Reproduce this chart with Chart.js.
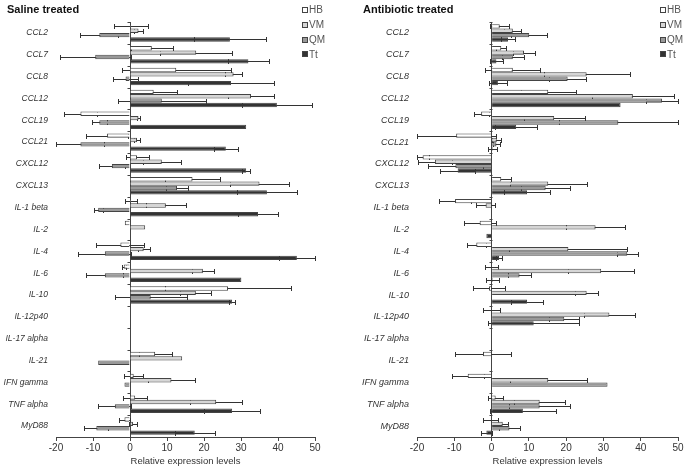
<!DOCTYPE html>
<html>
<head>
<meta charset="utf-8">
<script src="https://cdn.jsdelivr.net/npm/chart.js@4.4.0/dist/chart.umd.min.js"></script>
<style>
    body { margin: 0; background: #fff; }
    #wrap { position: relative; width: 686px; height: 470px; }
    .panel { position: absolute; top: 0; height: 470px; }
    #left { left: 0; width: 340px; }
    #right { left: 340px; width: 346px; }
</style>
</head>
<body>
<div id="wrap">
    <div class="panel" id="left"><canvas id="grafico-saline"></canvas></div>
    <div class="panel" id="right"><canvas id="grafico-antibiotic"></canvas></div>
</div>
<script>
const genes = ['CCL2', 'CCL7', 'CCL8', 'CCL12', 'CCL19', 'CCL21', 'CXCL12', 'CXCL13', 'IL-1 beta', 'IL-2',
    'IL-4', 'IL-6', 'IL-10', 'IL-12p40', 'IL-17 alpha', 'IL-21', 'IFN gamma', 'TNF alpha', 'MyD88'];
const groups = ['HB', 'VM', 'QM', 'Tt'];
const xTicks = [-20, -10, 0, 10, 20, 30, 40, 50];

// Saline treated
const salineHB = [0.3, 5.9, 12.5, 6.4, -13.4, -6.2, 1.9, 16.9, 0.3, -1.4, -2.6, -1.7, 26.5, 0, 0, 6.8, 1, 1.4, -1.5];
const salineHBerr = [4.5, 5.6, 14.7, 6.3, 4.5, 5.6, 3.1, 7.5, 1.6, 0, 6.5, 0.5, 17.1, 0, 0, 4.5, 2.5, 3.2, 1.5];
const salineVM = [2.3, 17.9, 28, 32.7, 2.3, 1.9, 8.6, 35, 9.7, 4.1, 3.7, 19.7, 17.8, 0, 0, 14.1, 11.2, 23.3, 0.8];
const salineVMerr = [1.3, 9.7, 2.4, 6.3, 0.5, 0.8, 5.1, 8.1, 5.4, 0, 1.6, 2.9, 4.2, 0, 0, 0, 6.3, 7.1, 1.2];
const salineQM = [-8.3, -9.4, -1.2, 8.6, -8.3, -13.4, -4.9, 12.7, -8.6, 0, -6.8, -6.8, 5.6, 0, 0, -8.6, -1.5, -4.1, -9.1];
const salineQMerr = [5.1, 9.6, 3.4, 11.9, 2, 6.5, 3.6, 3, 1.2, 0, 7.2, 5, 9.7, 0, 0, 0, 0, 4.5, 3.2];
const salineTt = [27, 32, 27.3, 39.7, 31.4, 25.9, 31.4, 37, 34.6, 0, 45.1, 30.1, 27.6, 0, 0, 0, 0, 27.6, 17.5];
const salineTterr = [9.8, 5.6, 11.7, 9.5, 0, 3.3, 1.1, 8.1, 5.4, 0, 4.8, 0, 0.9, 0, 0, 0, 0, 7.6, 5.4];

// Antibiotic treated
const antibioticHB = [2.2, 2.6, 5.7, 15.2, -2.8, -9.5, -18.5, 2.6, -9.8, -3.2, -4.1, 0, -0.7, 0, 0, -2.3, -6.4, 1.1, -0.2];
const antibioticHBerr = [2.6, 1.3, 7.4, 7.4, 2, 10.6, 1.6, 2.7, 4.2, 4.3, 2.5, 1.7, 4.3, 2.2, 0, 7.5, 4.3, 2, 2];
const antibioticVM = [5.7, 8.7, 25.5, 37.9, 16.8, 1.4, -15.2, 15.2, -1.6, 27.9, 20.6, 29.4, 25.5, 31.6, 0, 0, 15.2, 12.9, 3];
const antibioticVMerr = [2.3, 2.9, 11.5, 10.9, 8.2, 1.2, 4.6, 10.3, 2.5, 7.9, 15.8, 8.9, 3, 6.9, 0, 0, 10.3, 6.8, 1.4];
const antibioticQM = [10.1, 5.7, 20.4, 45.7, 34, 1.3, -9.7, 14.5, 0, 0, 36.4, 7.5, 0, 19.5, 0, 0, 31.1, 12.9, 4.8];
const antibioticQMerr = [4.8, 3, 5, 4.3, 16, 0.9, 7.4, 6.5, 0, 0, 2.8, 3, 0, 4, 0, 0, 0, 8.1, 2.7];
const antibioticTt = [4.4, 1.3, 1.7, 34.6, 6.6, 0.3, -9.1, 9.5, 0, -1.4, 2, 0.3, 9.5, 11.3, 0, 0, 0, 8.4, -1.4];
const antibioticTterr = [1.8, 1.7, 2.5, 0, 5.7, 1.2, 4.7, 6.3, 0, 0, 0.9, 1.8, 4.3, 12.2, 0, 0, 0, 8.8, 1.4];

const groupColors = ['#FFFFFF', '#D6D6D6', '#999999', '#333333'];

Chart.defaults.font.family = '"Liberation Sans", Arial, sans-serif';
Chart.defaults.color = '#333';

// error bars go under the bars, so only the part sticking out shows
const errorBars = {
    id: 'errorBars',
    beforeDatasetsDraw(chart) {
        const { ctx, scales } = chart;
        ctx.save();
        ctx.strokeStyle = '#333';
        ctx.lineWidth = 1;
        chart.data.datasets.forEach((ds, i) => {
            chart.getDatasetMeta(i).data.forEach((bar, j) => {
                const err = ds.errors[j];
                if (!err) return;
                const x1 = Math.round(scales.x.getPixelForValue(ds.data[j] - err)) + 0.5;
                const x2 = Math.round(scales.x.getPixelForValue(ds.data[j] + err)) + 0.5;
                const y = Math.round(bar.y) + 0.5;
                ctx.beginPath();
                ctx.moveTo(x1, y);
                ctx.lineTo(x2, y);
                ctx.moveTo(x1, y - 2.5);
                ctx.lineTo(x1, y + 2.5);
                ctx.moveTo(x2, y - 2.5);
                ctx.lineTo(x2, y + 2.5);
                ctx.stroke();
            });
        });
        ctx.restore();
    }
};

// title, small legend and the little ticks on the zero line
const panelDecor = {
    id: 'panelDecor',
    afterDraw(chart, args, opts) {
        const { ctx, scales } = chart;
        ctx.save();
        const x0 = Math.round(scales.x.getPixelForValue(0)) + 0.5;
        ctx.strokeStyle = '#444';
        ctx.lineWidth = 1;
        ctx.beginPath();
        for (let j = 0; j <= chart.data.labels.length; j++) {
            const y = Math.round(scales.y.getPixelForValue(j - 0.5)) + 0.5;
            ctx.moveTo(x0 - 3, y);
            ctx.lineTo(x0, y);
        }
        ctx.stroke();

        ctx.fillStyle = '#111';
        ctx.font = 'bold 11px "Liberation Sans", Arial, sans-serif';
        ctx.textBaseline = 'middle';
        ctx.fillText(opts.title, opts.titleX, 10);

        ctx.font = '10px "Liberation Sans", Arial, sans-serif';
        chart.data.datasets.forEach((ds, i) => {
            const y = 10 + i * 14.8;
            ctx.fillStyle = ds.backgroundColor;
            ctx.fillRect(opts.legendX, Math.round(y - 3), 5, 5);
            ctx.strokeStyle = '#444';
            ctx.strokeRect(opts.legendX + 0.5, Math.round(y - 3) + 0.5, 5, 5);
            ctx.fillStyle = '#555';
            ctx.fillText(ds.label, opts.legendX + 7, y + 0.5);
        });
        ctx.restore();
    }
};

function makePanel(canvasId, series, errors, axisWidth, padRight, labelSize, title, titleX, legendX) {
    new Chart(document.getElementById(canvasId), {
        type: 'bar',
        data: {
            labels: genes,
            datasets: groups.map((g, i) => ({
                label: g,
                data: series[i],
                errors: errors[i],
                backgroundColor: groupColors[i],
                borderColor: '#444',
                borderWidth: 1,
                categoryPercentage: 0.8,
                barPercentage: 1.0
            }))
        },
        options: {
            indexAxis: 'y',
            responsive: true,
            maintainAspectRatio: false,
            animation: false,
            layout: { padding: { top: 22, right: padRight, left: 0, bottom: 0 } },
            plugins: {
                legend: { display: false },
                tooltip: { enabled: false },
                panelDecor: { title: title, titleX: titleX, legendX: legendX }
            },
            scales: {
                x: {
                    min: xTicks[0],
                    max: xTicks[xTicks.length - 1],
                    afterBuildTicks: scale => { scale.ticks = xTicks.map(v => ({ value: v })); },
                    afterFit: scale => { scale.height = 33; },
                    ticks: { color: '#333', font: { size: 10 }, padding: 1 },
                    grid: {
                        color: c => (c.tick && c.tick.value === 0 ? '#444' : 'rgba(0,0,0,0)'),
                        tickColor: '#444',
                        tickLength: 4
                    },
                    border: { color: '#444' },
                    title: {
                        display: true,
                        text: 'Relative expression levels',
                        color: '#333',
                        font: { size: 9.5 },
                        padding: { top: 2, bottom: 3 }
                    }
                },
                y: {
                    afterFit: scale => { scale.width = axisWidth; },
                    ticks: {
                        color: '#333',
                        font: { size: labelSize, style: 'italic' },
                        padding: 8,
                        autoSkip: false
                    },
                    grid: { display: false, drawTicks: false },
                    border: { display: false }
                }
            }
        },
        plugins: [errorBars, panelDecor]
    });
}

makePanel('grafico-saline',
    [salineHB, salineVM, salineQM, salineTt],
    [salineHBerr, salineVMerr, salineQMerr, salineTterr],
    56, 25, 8.5, 'Saline treated', 7, 302);

makePanel('grafico-antibiotic',
    [antibioticHB, antibioticVM, antibioticQM, antibioticTt],
    [antibioticHBerr, antibioticVMerr, antibioticQMerr, antibioticTterr],
    77, 8, 9, 'Antibiotic treated', 23, 320);
</script>
</body>
</html>
